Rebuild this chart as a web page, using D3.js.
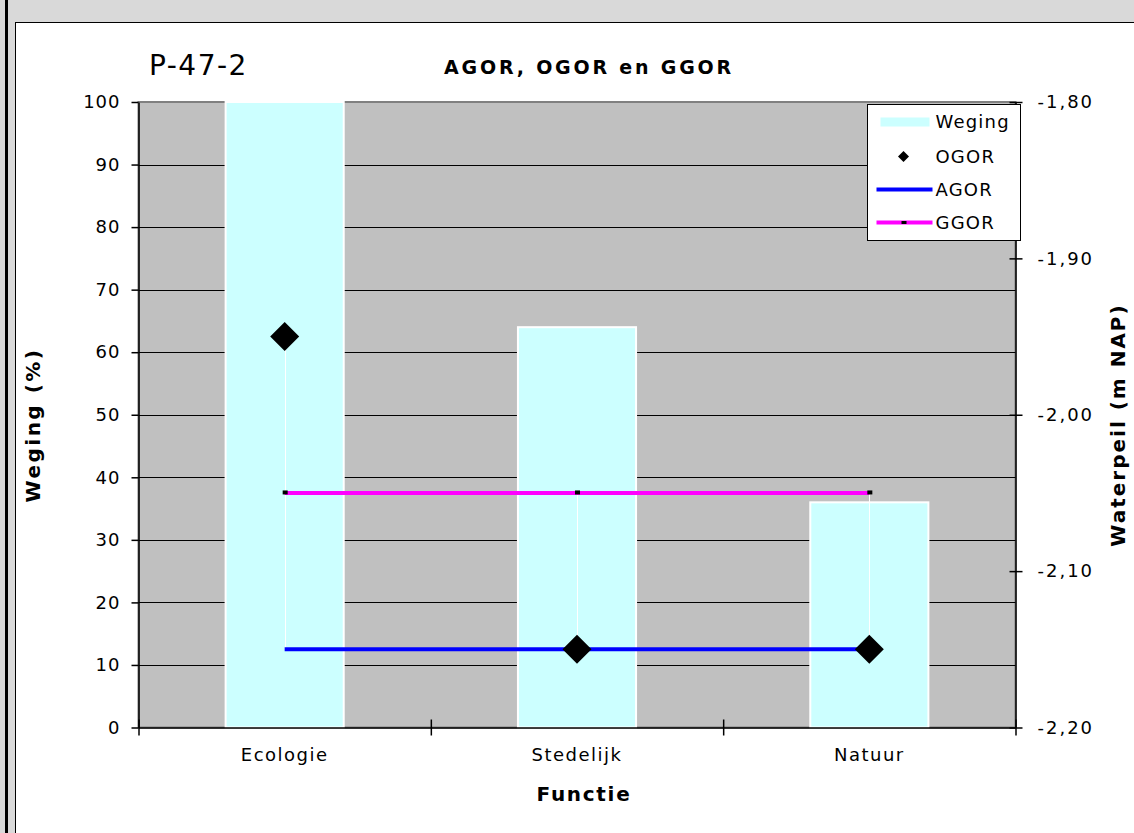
<!DOCTYPE html>
<html>
<head>
<meta charset="utf-8">
<script src="https://cdn.jsdelivr.net/npm/d3@7"></script>
<style>
  html, body { margin: 0; padding: 0; background: #d9d9d9; }
  svg { display: block; }
  text { font-family: "DejaVu Sans", Verdana, sans-serif; fill: #000; }
</style>
</head>
<body>
<svg id="chart" width="1134" height="833"></svg>
<script>
// Functions (categories) and their weighting in percent
const categories = ["Ecologie", "Stedelijk", "Natuur"];
const weging = [100, 64, 36];

// Water levels per function (m NAP)
const ogor = [-1.95, -2.15, -2.15];
const agor = [-2.15, -2.15, -2.15];
const ggor = [-2.05, -2.05, -2.05];

// Axis ticks
const leftTicks = [0, 10, 20, 30, 40, 50, 60, 70, 80, 90, 100];
const rightTicks = [-2.2, -2.1, -2.0, -1.9, -1.8];

const svg = d3.select("#chart");

// Outer frame: grey window margin, thick black rule, white chart area
svg.append("rect").attr("x", 0).attr("y", 0).attr("width", 1134).attr("height", 833).attr("fill", "#d9d9d9");
svg.append("rect").attr("x", 5).attr("y", 0).attr("width", 3).attr("height", 833).attr("fill", "#000");
svg.append("rect").attr("x", 15.5).attr("y", 22.5).attr("width", 1140).attr("height", 840)
  .attr("fill", "#fff").attr("stroke", "#000").attr("stroke-width", 1);

const plot = { left: 138.5, right: 1015.5, top: 102, bottom: 727.5 };

const x = d3.scaleBand().domain(categories).range([plot.left, plot.right]).padding(0);
const xEdge = d3.scaleLinear().domain([0, categories.length]).range([plot.left, plot.right]);
const yL = d3.scaleLinear().domain([0, 100]).range([plot.bottom, plot.top]);
const yR = d3.scaleLinear().domain([-2.2, -1.8]).range([plot.bottom, plot.top]);

const nl = d3.formatLocale({ decimal: ",", thousands: ".", grouping: [3], currency: ["€", ""], minus: "-" });
const fmtR = nl.format(".2f");

const cx = c => x(c) + x.bandwidth() / 2;
const barW = x.bandwidth() * 0.404;

// Plot area background and border
svg.append("rect")
  .attr("x", plot.left).attr("y", plot.top)
  .attr("width", plot.right - plot.left).attr("height", plot.bottom - plot.top)
  .attr("fill", "#c0c0c0").attr("stroke", "#808080").attr("stroke-width", 2);

// Horizontal gridlines
svg.append("g").selectAll("line")
  .data(leftTicks.filter(d => d > 0 && d < 100))
  .join("line")
  .attr("x1", plot.left).attr("x2", plot.right)
  .attr("y1", d => Math.round(yL(d)) + 0.5).attr("y2", d => Math.round(yL(d)) + 0.5)
  .attr("stroke", "#000").attr("stroke-width", 1);

// Weging bars
svg.append("g").selectAll("rect")
  .data(categories)
  .join("rect")
  .attr("x", c => cx(c) - barW / 2)
  .attr("y", (c, i) => yL(weging[i]))
  .attr("width", barW)
  .attr("height", (c, i) => yL(0) - yL(weging[i]))
  .attr("fill", "#ccffff").attr("stroke", "#fff").attr("stroke-width", 2);

// High-low lines between the water level series
svg.append("g").selectAll("line")
  .data(categories)
  .join("line")
  .attr("x1", c => Math.round(cx(c)) + 0.5).attr("x2", c => Math.round(cx(c)) + 0.5)
  .attr("y1", (c, i) => yR(Math.max(ogor[i], agor[i], ggor[i])))
  .attr("y2", (c, i) => yR(Math.min(ogor[i], agor[i], ggor[i])))
  .attr("stroke", "#fff").attr("stroke-width", 1);

const line = d3.line().x((d, i) => cx(categories[i])).y(d => yR(d));

// GGOR line with small dash markers
svg.append("path").datum(ggor).attr("d", line)
  .attr("fill", "none").attr("stroke", "#ff00ff").attr("stroke-width", 4);
svg.append("g").selectAll("rect")
  .data(ggor)
  .join("rect")
  .attr("x", (d, i) => cx(categories[i]) - 2).attr("y", d => yR(d) - 2.5)
  .attr("width", 5).attr("height", 4).attr("fill", "#000");

// AGOR line
svg.append("path").datum(agor).attr("d", line)
  .attr("fill", "none").attr("stroke", "#0000ff").attr("stroke-width", 4);

// OGOR diamond markers
const diamond = s => `M0,${-s}L${s},0L0,${s}L${-s},0Z`;
svg.append("g").selectAll("path")
  .data(ogor)
  .join("path")
  .attr("transform", (d, i) => `translate(${cx(categories[i])},${yR(d)})`)
  .attr("d", diamond(14.5))
  .attr("fill", "#000");

// Left axis
const axL = svg.append("g").attr("transform", `translate(${plot.left},0)`)
  .call(d3.axisLeft(yL).tickValues(leftTicks).tickSize(7).tickSizeOuter(0).tickPadding(11));
axL.select(".domain").attr("stroke", "#000").attr("stroke-width", 1.5);
axL.selectAll(".tick line").attr("stroke", "#000").attr("stroke-width", 1.5);
axL.selectAll(".tick text")
  .attr("font-size", 18).attr("letter-spacing", 1).attr("font-family", "DejaVu Sans").attr("fill", "#000");

// Right axis (ticks crossing the axis line)
const axR = svg.append("g").attr("transform", `translate(${plot.right},0)`)
  .call(d3.axisRight(yR).tickValues(rightTicks).tickFormat(fmtR).tickSize(7).tickSizeOuter(0).tickPadding(15));
axR.select(".domain").attr("stroke", "#000").attr("stroke-width", 1.5);
axR.selectAll(".tick line").attr("x1", -6).attr("stroke", "#000").attr("stroke-width", 1.5);
axR.selectAll(".tick text")
  .attr("font-size", 18).attr("letter-spacing", 2).attr("font-family", "DejaVu Sans").attr("fill", "#000");

// Bottom axis: tick marks at category boundaries, labels at centres
const axB = svg.append("g").attr("transform", `translate(0,${plot.bottom})`)
  .call(d3.axisBottom(xEdge).tickValues(d3.range(categories.length + 1)).tickFormat("").tickSize(8).tickSizeOuter(0));
axB.select(".domain").attr("stroke", "#000").attr("stroke-width", 1.5);
axB.selectAll(".tick line").attr("y1", -8).attr("stroke", "#000").attr("stroke-width", 1.5);

const axBL = svg.append("g").attr("transform", `translate(0,${plot.bottom})`)
  .call(d3.axisBottom(x).tickSize(0).tickPadding(21));
axBL.select(".domain").remove();
axBL.selectAll(".tick text")
  .attr("font-size", 18).attr("letter-spacing", 1.5).attr("font-family", "DejaVu Sans").attr("fill", "#000");

// Titles
svg.append("text").attr("x", 149).attr("y", 75)
  .attr("font-size", 28).attr("letter-spacing", 1.5).text("P-47-2");

svg.append("text").attr("x", 589).attr("y", 74).attr("text-anchor", "middle")
  .attr("font-size", 19).attr("font-weight", "bold").attr("letter-spacing", 2.8)
  .text("AGOR, OGOR en GGOR");

svg.append("text").attr("x", 584).attr("y", 801).attr("text-anchor", "middle")
  .attr("font-size", 20).attr("font-weight", "bold").attr("letter-spacing", 1.7)
  .text("Functie");

svg.append("text").attr("transform", "translate(40,425) rotate(-90)").attr("text-anchor", "middle")
  .attr("font-size", 20).attr("font-weight", "bold").attr("letter-spacing", 2.5)
  .text("Weging (%)");

svg.append("text").attr("transform", "translate(1125,425) rotate(-90)").attr("text-anchor", "middle")
  .attr("font-size", 20).attr("font-weight", "bold").attr("letter-spacing", 2)
  .text("Waterpeil (m NAP)");

// Legend
const lg = svg.append("g").attr("transform", "translate(867.5,104.5)");
lg.append("rect").attr("width", 153).attr("height", 136).attr("fill", "#fff").attr("stroke", "#000").attr("stroke-width", 1);

const legendItems = [
  { name: "Weging", y: 17 },
  { name: "OGOR", y: 52 },
  { name: "AGOR", y: 85 },
  { name: "GGOR", y: 118 }
];
lg.append("rect").attr("x", 13).attr("y", legendItems[0].y - 4).attr("width", 49).attr("height", 9).attr("fill", "#ccffff");
lg.append("path").attr("transform", `translate(36,${legendItems[1].y})`).attr("d", diamond(5.5)).attr("fill", "#000");
lg.append("line").attr("x1", 9).attr("x2", 65).attr("y1", legendItems[2].y).attr("y2", legendItems[2].y)
  .attr("stroke", "#0000ff").attr("stroke-width", 4);
lg.append("line").attr("x1", 9).attr("x2", 65).attr("y1", legendItems[3].y).attr("y2", legendItems[3].y)
  .attr("stroke", "#ff00ff").attr("stroke-width", 4);
lg.append("rect").attr("x", 34).attr("y", legendItems[3].y - 1.5).attr("width", 5).attr("height", 3).attr("fill", "#000");

lg.selectAll("text.lbl")
  .data(legendItems)
  .join("text")
  .attr("class", "lbl")
  .attr("x", 68).attr("y", d => d.y)
  .attr("dy", "0.36em")
  .attr("font-size", 18).attr("letter-spacing", 1.2)
  .text(d => d.name);
</script>
</body>
</html>
